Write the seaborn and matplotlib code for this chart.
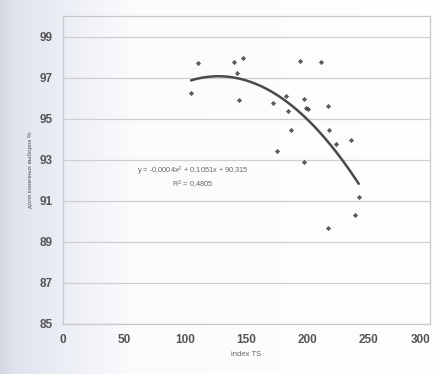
import numpy as np
import pandas as pd
import seaborn as sns
import matplotlib.pyplot as plt
from matplotlib.colors import LinearSegmentedColormap

# ====================================================
# DATA
# ====================================================

index_ts = [104.9, 110.4, 139.5, 142.5, 144.2, 146.9, 171.4, 175.2,
            182.6, 184.2, 186.7, 193.5, 196.7, 196.7, 198.7, 200.3,
            211.2, 216.4, 216.9, 217.7, 223.2, 235.5, 238.5, 241.7]
percent = [96.25, 97.70, 97.77, 97.23, 95.93, 97.96, 95.78, 93.44,
           96.12, 95.38, 94.43, 97.80, 95.95, 92.89, 95.54, 95.49,
           97.77, 89.67, 95.63, 94.45, 93.77, 93.96, 90.32, 91.17]

x_ticks = [0, 50, 100, 150, 200, 250, 300]
y_ticks = [85, 87, 89, 91, 93, 95, 97, 99]

equation = "y = -0,0004x$^2$ + 0,1051x + 90,315"
r_squared = "R$^2$ = 0,4805"

df = pd.DataFrame({"index TS": index_ts, "percent": percent})

# ====================================================
# FIGURE
# ====================================================

sns.set_style("white")
plt.rcParams["font.family"] = ["Liberation Sans", "DejaVu Sans"]

fig = plt.figure(figsize=(4.38, 3.74), dpi=100)

# scanned page tint on the left
bg = fig.add_axes([0, 0, 1, 1], zorder=-10)
scan = LinearSegmentedColormap.from_list(
    "scan",
    [(0.0, "#d3d7df"), (0.03, "#dfe3ec"), (0.14, "#ebeef5"),
     (0.3, "#fbfbfd"), (1.0, "#ffffff")]
)
bg.imshow(np.linspace(0, 1, 438)[None, :], aspect="auto", cmap=scan,
          extent=[0, 1, 0, 1], vmin=0, vmax=1)
bg.axis("off")

ax = fig.add_axes([0.143, 0.134, 0.839, 0.823])
ax.set_facecolor("none")

sns.regplot(
    data=df,
    x="index TS",
    y="percent",
    order=2,
    ci=None,
    ax=ax,
    marker="D",
    scatter_kws={"s": 7, "color": "#333333", "linewidths": 0},
    line_kws={"color": "#4a4a4a", "linewidth": 1.8},
)

ax.set_xlim(0, 300)
ax.set_ylim(85, 100)
ax.set_xticks(x_ticks)
ax.set_yticks(y_ticks)
ax.grid(axis="y", color="#cfcfcf", linewidth=0.9)
ax.tick_params(length=0, labelsize=8.5, labelcolor="#555555", pad=7)
for lab in ax.get_xticklabels() + ax.get_yticklabels():
    lab.set_fontweight("bold")
ax.get_xticklabels()[-1].set_horizontalalignment("right")
ax.get_xticklabels()[-1].set_x(302)

for side in ["left", "right", "top", "bottom"]:
    ax.spines[side].set_visible(True)
    ax.spines[side].set_color("#c8c8c8")
    ax.spines[side].set_linewidth(0.9)

ax.set_xlabel("index TS", fontsize=5.5, color="#666666", labelpad=4)
ax.set_ylabel("доля конечных выборок %", fontsize=4.5, color="#555555",
              labelpad=5)

ax.text(106, 92.35, equation, fontsize=5.3, color="#666666", ha="center")
ax.text(106, 91.65, r_squared, fontsize=5.3, color="#666666", ha="center")

plt.savefig("out.png", dpi=100)
